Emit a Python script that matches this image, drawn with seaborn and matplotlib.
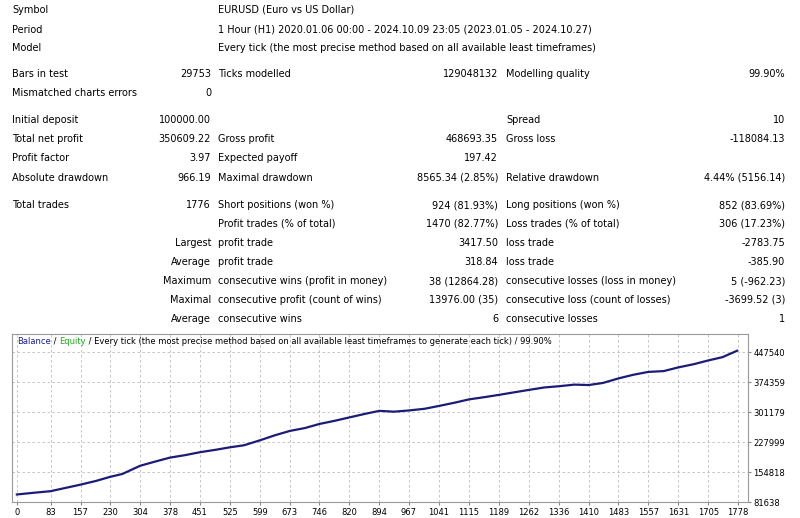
import matplotlib
matplotlib.use('Agg')
import matplotlib.pyplot as plt
import seaborn as sns
import pandas as pd

# report rows: (y px, label1, value1, label2, value2, label3, value3)
rows = [
    (10, 'Symbol', '', 'EURUSD (Euro vs US Dollar)', None, None, None),
    (30, 'Period', '', '1 Hour (H1) 2020.01.06 00:00 - 2024.10.09 23:05 (2023.01.05 - 2024.10.27)', None, None, None),
    (48, 'Model', '', 'Every tick (the most precise method based on all available least timeframes)', None, None, None),
    (74, 'Bars in test', '29753', 'Ticks modelled', '129048132', 'Modelling quality', '99.90%'),
    (93, 'Mismatched charts errors', '0', '', '', '', ''),
    (120, 'Initial deposit', '100000.00', '', '', 'Spread', '10'),
    (139, 'Total net profit', '350609.22', 'Gross profit', '468693.35', 'Gross loss', '-118084.13'),
    (158, 'Profit factor', '3.97', 'Expected payoff', '197.42', '', ''),
    (178, 'Absolute drawdown', '966.19', 'Maximal drawdown', '8565.34 (2.85%)', 'Relative drawdown', '4.44% (5156.14)'),
    (205, 'Total trades', '1776', 'Short positions (won %)', '924 (81.93%)', 'Long positions (won %)', '852 (83.69%)'),
    (224, '', '', 'Profit trades (% of total)', '1470 (82.77%)', 'Loss trades (% of total)', '306 (17.23%)'),
    (243, '', 'Largest', 'profit trade', '3417.50', 'loss trade', '-2783.75'),
    (262, '', 'Average', 'profit trade', '318.84', 'loss trade', '-385.90'),
    (281, '', 'Maximum', 'consecutive wins (profit in money)', '38 (12864.28)', 'consecutive losses (loss in money)', '5 (-962.23)'),
    (300, '', 'Maximal', 'consecutive profit (count of wins)', '13976.00 (35)', 'consecutive loss (count of losses)', '-3699.52 (3)'),
    (319, '', 'Average', 'consecutive wins', '6', 'consecutive losses', '1'),
]

# balance curve (trade number, balance)
trades = [0, 40, 83, 120, 157, 195, 230, 260, 304, 340, 378, 415, 451, 490, 525, 560,
          599, 635, 673, 710, 746, 785, 820, 860, 894, 930, 967, 1005, 1041, 1080, 1115,
          1150, 1189, 1225, 1262, 1300, 1336, 1375, 1410, 1445, 1483, 1520, 1557, 1595,
          1631, 1670, 1705, 1740, 1776]
balance = [100000, 104000, 108000, 116000, 124000, 133000, 143000, 150000, 170000, 180000,
           190000, 196000, 203000, 209000, 215000, 220000, 232000, 244000, 255000, 262000,
           272000, 280000, 288000, 297000, 304000, 302000, 305000, 309000, 316000, 324000,
           332000, 337000, 343000, 349000, 355000, 361000, 364000, 368000, 367000, 372000,
           383000, 392000, 399000, 401000, 410000, 418000, 427000, 435000, 450609]
xticks = [0, 83, 157, 230, 304, 378, 451, 525, 599, 673, 746, 820, 894, 967, 1041, 1115,
          1189, 1262, 1336, 1410, 1483, 1557, 1631, 1705, 1778]
yticks = [81638, 154818, 227999, 301179, 374359, 447540]

W, H = 800, 518
plt.rcParams['font.family'] = 'DejaVu Sans'
fig = plt.figure(figsize=(8, 5.18), dpi=100)
fs = 7

def t(x, y, s, ha='left', **kw):
    fig.text(x / W, 1 - y / H, s, ha=ha, va='center', fontsize=fs, **kw)

for y, l1, v1, l2, v2, l3, v3 in rows:
    t(12, y, l1)
    t(211, y, v1, ha='right')
    t(218, y, l2)
    if v2 is not None:
        t(498, y, v2, ha='right')
        t(506, y, l3)
        t(785, y, v3, ha='right')

ax = fig.add_axes([12 / W, 1 - 502 / H, (748 - 12) / W, (502 - 334) / H])
df = pd.DataFrame({'trade': trades, 'balance': balance})
sns.lineplot(data=df, x='trade', y='balance', ax=ax, color='#1c1c78', linewidth=1.6)
ax.set_xlim(-12, 1803)
ax.set_ylim(81638, 491500)
ax.set_xticks(xticks)
ax.set_yticks(yticks)
ax.set_xticklabels([str(v) for v in xticks], fontsize=6)
ax.set_yticklabels([str(v) for v in yticks], fontsize=6)
ax.yaxis.tick_right()
ax.tick_params(length=2, color='#888888', pad=2)
ax.grid(True, linestyle=(0, (3, 3)), color='#bbbbbb', linewidth=0.6)
ax.set_xlabel('')
ax.set_ylabel('')
for sp in ax.spines.values():
    sp.set_color('#999999')
    sp.set_linewidth(0.8)

# legend line in the chart corner
fig.canvas.draw()
r = fig.canvas.get_renderer()
x = 17
for s, c in [('Balance', '#1c1c9a'), (' / ', 'black'), ('Equity', '#22aa22'),
             (' / Every tick (the most precise method based on all available least timeframes to generate each tick) / 99.90%', 'black')]:
    tx = fig.text(x / W, 1 - 341 / H, s, ha='left', va='center', fontsize=6, color=c)
    x += tx.get_window_extent(r).width

fig.savefig('out.png', dpi=100)
